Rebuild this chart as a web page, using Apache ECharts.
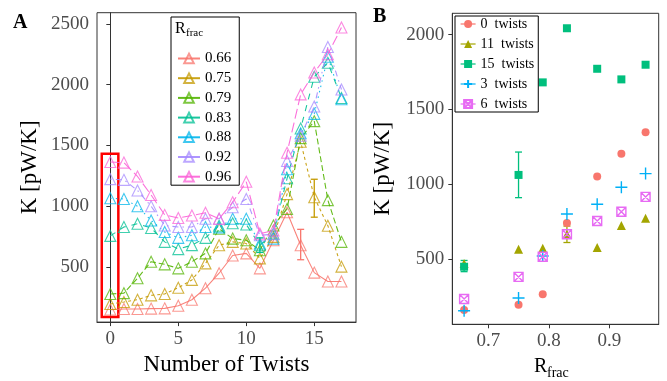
<!DOCTYPE html>
<html><head><meta charset="utf-8">
<script src="https://cdn.jsdelivr.net/npm/echarts@6/dist/echarts.min.js"></script>
<style>html,body{margin:0;padding:0;background:#fff}#c{width:667px;height:381px}</style>
</head><body><div id="c"></div>
<script>
// ---------- Panel A data ----------
const twists = [0,1,2,3,4,5,6,7,8,9,10,11,12,13,14,15,16,17];
const rfracLevels = ['0.66','0.75','0.79','0.83','0.88','0.92','0.96'];
const k066 = [150,155,155,158,160,182,231,326,449,595,612,489,720,950,679,454,381,381];
const k075 = [196,212,231,267,278,330,394,530,679,707,693,571,748,1100,1530,1074,840,503];
const k079 = [278,285,408,544,522,489,544,612,815,734,720,638,842,978,1560,1700,1050,707];
const k083 = [756,829,856,821,707,647,680,740,840,860,850,679,775,1230,1640,2065,2180,1890];
const k088 = [1066,1060,1000,883,788,740,761,829,826,897,897,693,734,1304,1600,1760,2230,1880];
const k092 = [1223,1217,1130,1000,842,829,829,897,897,992,1060,761,770,1372,1580,1820,2310,1960];
const k096 = [1364,1359,1245,1093,929,903,924,946,897,1033,1201,775,800,1440,1920,2100,2250,2470];
// error bars panel A: [twists, low, high]
const errA066 = [[14,560,810]];
const errA075 = [[15,910,1222]];
const errA083 = [[11,620,740]];
const highlightBox = [[-0.63, 88],[0.59, 1432]];
const ticksAx = [0,5,10,15];
const ticksAy = [500,1000,1500,2000,2500];

// ---------- Panel B data ----------
const rfrac = [0.66,0.75,0.79,0.83,0.88,0.92,0.96];
const tw0  = [159,194,264,741,1051,1203,1348];
const tw11 = [470,565,572,665,576,723,772];
const tw15 = [448,1062,1681,2043,1772,1701,1799];
const tw3  = [154,239,520,801,866,980,1071];
const tw6  = [232,380,515,665,754,816,915];
const errB15 = [[0.66,415,490],[0.75,910,1215]];
const errB11 = [[0.83,610,720]];
const ticksBx = [0.7,0.8,0.9];
const ticksBy = [500,1000,1500,2000];

const colA = ['#F8766D','#C49A00','#53B400','#00C094','#00B6EB','#A58AFF','#FB61D7'];
const dashA = ['solid',[3,3],[6,3],[6,6],[1.5,4],[1.5,4,6,4],[10,4]];
const seriesA = [k066,k075,k079,k083,k088,k092,k096];

const serif = 'Liberation Serif';
function errRender(color, cap){
  return function(params, api){
    const x = api.value(0), lo = api.value(1), hi = api.value(2);
    const p1 = api.coord([x, lo]), p2 = api.coord([x, hi]);
    const st = {stroke: color, lineWidth: 1.3};
    return {type:'group', children:[
      {type:'line', shape:{x1:p1[0],y1:p1[1],x2:p2[0],y2:p2[1]}, style:st},
      {type:'line', shape:{x1:p1[0]-cap,y1:p1[1],x2:p1[0]+cap,y2:p1[1]}, style:st},
      {type:'line', shape:{x1:p2[0]-cap,y1:p2[1],x2:p2[0]+cap,y2:p2[1]}, style:st}
    ]};
  };
}

const series = [];
seriesA.forEach((arr, i) => {
  const s = {
    type:'line', name: rfracLevels[i], xAxisIndex:0, yAxisIndex:0,
    data: twists.map((t, j) => [t, arr[j]]),
    symbol:'triangle', symbolSize: 11, showSymbol: true,
    lineStyle:{color: colA[i], width: 1.1, type: dashA[i], opacity: 0.9},
    itemStyle:{color:'rgba(0,0,0,0)', borderColor: colA[i], borderWidth: 1.1, opacity: 0.75},
    emphasis:{disabled:true}, animation:false, z: 2 + i
  };
  if (i === 0) {
    s.markArea = {silent:true, itemStyle:{color:'rgba(0,0,0,0)', borderColor:'#FF0000', borderWidth:2.5, opacity:1},
      data:[[{coord: highlightBox[0]}, {coord: highlightBox[1]}]]};
  }
  series.push(s);
});
[[errA066,colA[0]],[errA075,colA[1]],[errA083,colA[3]]].forEach(([d,c]) => {
  series.push({type:'custom', xAxisIndex:0, yAxisIndex:0, data:d, encode:{x:0,y:[1,2]},
    renderItem: errRender(c, 3.5), animation:false, z: 10, silent:true});
});

const colB = ['#F8766D','#A3A500','#00BF7D','#00B0F6','#E76BF3'];
const namesB = ['0  twists','11  twists','15  twists','3  twists','6  twists'];
const dataB = [tw0, tw11, tw15, tw3, tw6];
const symB = ['circle','triangle','rect','path://M5,0 L5,10 M0,5 L10,5','path://M0,0 L10,0 L10,10 L0,10 Z M0,0 L10,10 M10,0 L0,10'];
const sizeB = [8,9,8,12,9];
[[errB15,colB[2]],[errB11,colB[1]]].forEach(([d,c]) => {
  series.push({type:'custom', xAxisIndex:1, yAxisIndex:1, data:d, encode:{x:0,y:[1,2]},
    renderItem: errRender(c, 3.5), animation:false, z: 1, silent:true});
});
dataB.forEach((arr, i) => {
  const stroke = i >= 3;
  series.push({
    type:'line', name: namesB[i], xAxisIndex:1, yAxisIndex:1,
    data: rfrac.map((r, j) => [r, arr[j]]),
    symbol: symB[i], symbolSize: sizeB[i], showSymbol:true,
    lineStyle:{opacity:0, width:1, color: colB[i]},
    itemStyle: stroke ? {color:'rgba(0,0,0,0)', borderColor: colB[i], borderWidth: 1.4}
                      : {color: colB[i], borderWidth: 0},
    emphasis:{disabled:true}, animation:false, z: 3
  });
});

const axisCommon = {
  axisLine:{show:true, lineStyle:{color:'#333', width:1}},
  axisTick:{show:true, length:4, lineStyle:{color:'#333'}},
  axisLabel:{color:'#4D4D4D', fontFamily: serif, fontSize: 19},
  splitLine:{show:false}
};
function mkAxis(extra, ticks, labelExtra){
  return Object.assign({}, axisCommon, extra, {
    axisTick: Object.assign({}, axisCommon.axisTick, {customValues: ticks}),
    axisLabel: Object.assign({}, axisCommon.axisLabel, {customValues: ticks}, labelExtra || {})
  });
}

const option = {
  backgroundColor:'#fff',
  animation:false,
  grid:[
    {left:97, top:12.7, right:311, bottom:56.7, show:true, borderColor:'#333', borderWidth:1, backgroundColor:'rgba(0,0,0,0)'},
    {left:452.3, top:13.3, right:8.3, bottom:56.7, show:true, borderColor:'#333', borderWidth:1, backgroundColor:'rgba(0,0,0,0)'}
  ],
  xAxis:[
    mkAxis({type:'value', gridIndex:0, min:-0.98, max:18.07, name:'Number of Twists', nameLocation:'middle', nameGap:29,
      nameTextStyle:{fontFamily:serif, fontSize:23, color:'#000'}}, ticksAx, {margin:7, formatter: v => String(v)}),
    mkAxis({type:'value', gridIndex:1, min:0.6405, max:0.9817}, ticksBx, {margin:7, formatter: v => v.toFixed(1)})
  ],
  yAxis:[
    mkAxis({type:'value', gridIndex:0, min:47, max:2592, name:'K [pW/K]', nameLocation:'middle', nameGap:56,
      nameTextStyle:{fontFamily:serif, fontSize:23, color:'#000'}}, ticksAy, {margin:8, formatter: v => String(v)}),
    mkAxis({type:'value', gridIndex:1, min:63, max:2143, name:'K [pW/K]', nameLocation:'middle', nameGap:58,
      nameTextStyle:{fontFamily:serif, fontSize:23, color:'#000'}}, ticksBy, {margin:8, formatter: v => String(v)})
  ],
  legend:[
    {show:true, orient:'vertical', left:171, top:17, padding:[34,8,1,6], itemGap:4.7, itemWidth:22, itemHeight:12,
      data: rfracLevels, borderColor:'#000', borderWidth:1, backgroundColor:'#fff',
      textStyle:{fontFamily:serif, fontSize:15, color:'#000', lineHeight:13},
      lineStyle:{type:'solid', opacity:0.9}, selectedMode:false},
    {show:true, orient:'vertical', left:455, top:16, padding:[1,4,1,5], itemGap:6, itemWidth:15, itemHeight:10,
      data: namesB, borderColor:'#000', borderWidth:1, backgroundColor:'#fff',
      textStyle:{fontFamily:serif, fontSize:14, color:'#000', lineHeight:14},
      lineStyle:{type:'solid', opacity:1, width:1.2}, selectedMode:false}
  ],
  graphic:[
    {type:'text', left:13, top:13, style:{text:'A', fontFamily:serif, fontSize:20, fontWeight:'bold', fill:'#000'}},
    {type:'text', left:373, top:7, style:{text:'B', fontFamily:serif, fontSize:20, fontWeight:'bold', fill:'#000'}},
    {type:'text', left:175, top:21, z:100, style:{text:'R', fontFamily:serif, fontSize:16, fill:'#000'}},
    {type:'text', left:186, top:28, z:100, style:{text:'frac', fontFamily:serif, fontSize:11, fill:'#000'}},
    {type:'text', left:534, top:357, style:{text:'R', fontFamily:serif, fontSize:20, fill:'#000'}},
    {type:'text', left:547, top:366, style:{text:'frac', fontFamily:serif, fontSize:14, fill:'#000'}}
  ],
  series: series
};
const chart = echarts.init(document.getElementById('c'), null, {renderer:'canvas'});
chart.setOption(option);
</script></body></html>
